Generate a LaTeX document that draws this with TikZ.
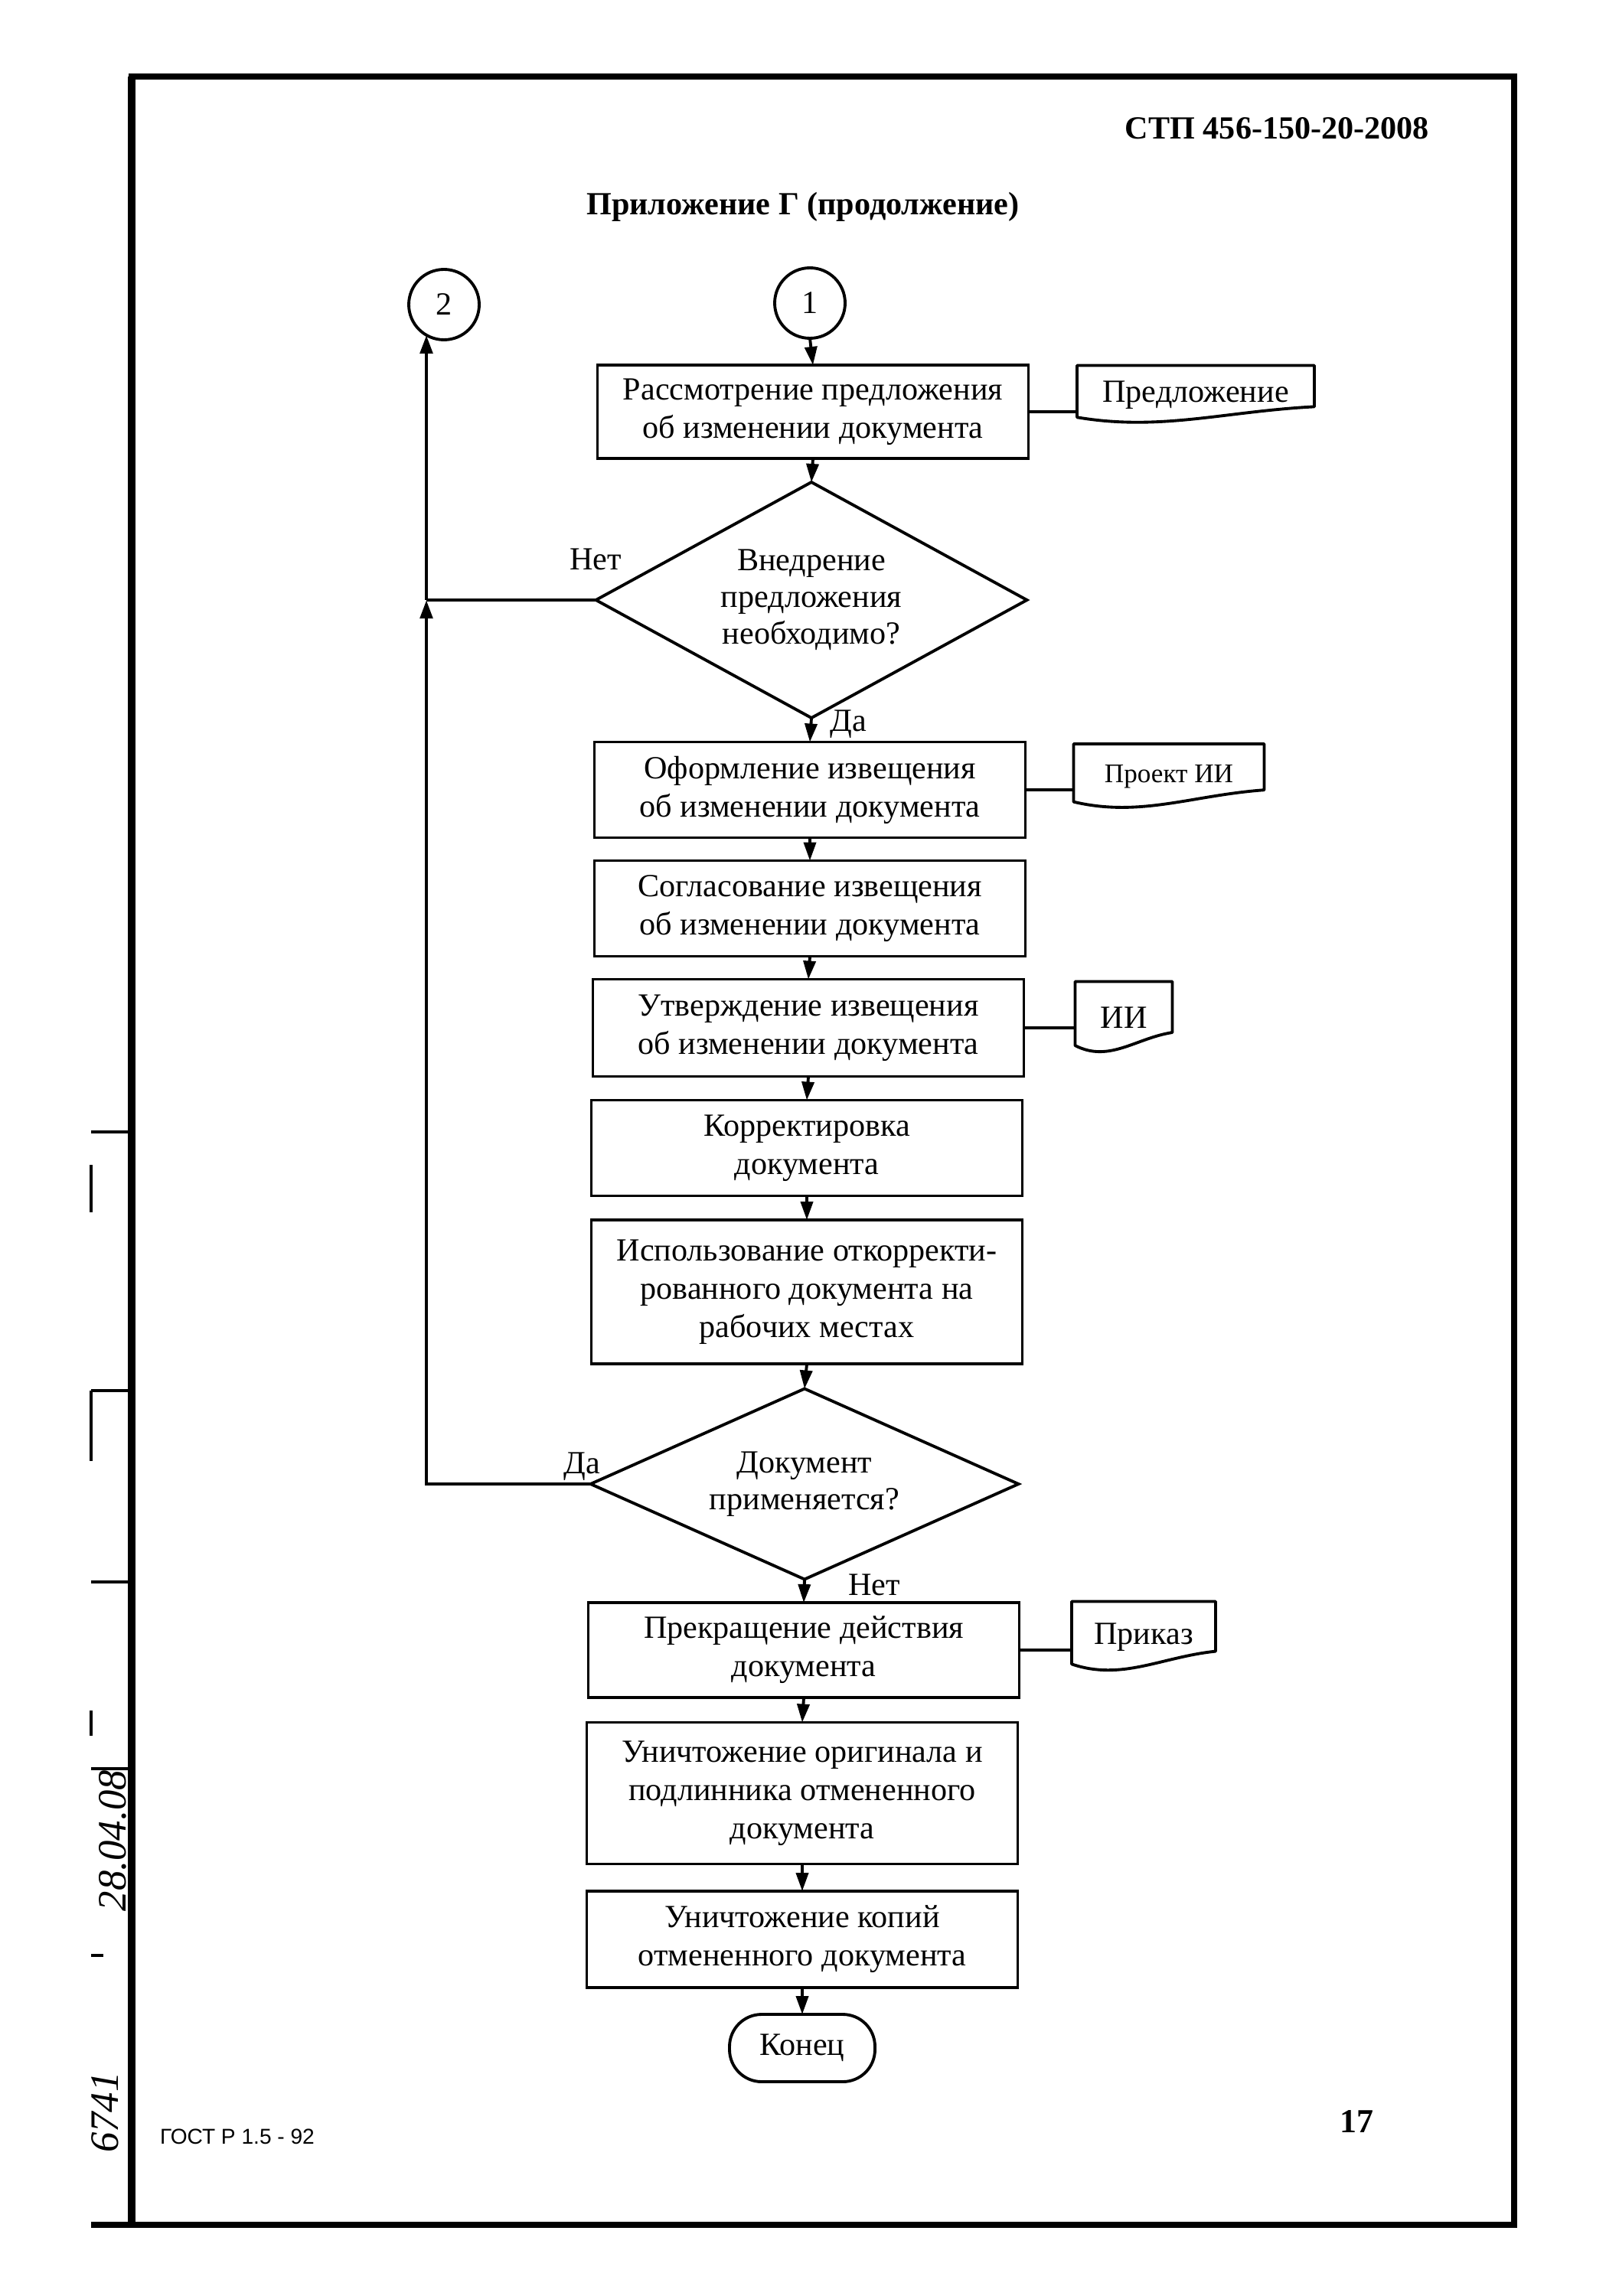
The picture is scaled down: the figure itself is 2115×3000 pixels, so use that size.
\documentclass[tikz,border=0pt]{standalone}
\usepackage{fontspec}
\setmainfont{Liberation Serif}
\newfontfamily\gostsans{Liberation Sans}
\usetikzlibrary{shapes.geometric,arrows.meta,calc}

\newcommand\docoutline[1]{%
  \draw[docline] let \p1=(#1.south west), \p2=(#1.north east) in
    (#1.north west) -- (#1.north east) -- ({\x2},{\y1+0.30*(\y2-\y1)})
    .. controls ({\x1+0.62*(\x2-\x1)},{\y1+0.22*(\y2-\y1)}) and ({\x1+0.35*(\x2-\x1)},{\y1-0.12*(\y2-\y1)}) ..
    ({\x1},{\y1+0.12*(\y2-\y1)}) -- cycle;}

\begin{document}
\begin{tikzpicture}[x=0.1mm,y=-0.1mm,
  every node/.style={inner sep=0pt, outer sep=0pt},
  txt/.style={font=\fontsize{12}{14.2}\selectfont},
  proc/.style={txt, draw, line width=1.1pt, minimum width=56.3mm, align=center},
  decis/.style={draw, diamond, line width=1.1pt, align=center, font=\fontsize{12}{13.6}\selectfont},
  docn/.style={txt, align=center},
  docline/.style={line width=1.1pt, line join=round},
  circ/.style={txt, draw, circle, line width=1.1pt, minimum size=9.2mm},
  term/.style={txt, draw, line width=1.1pt, rounded corners=4.2mm, minimum width=19mm, minimum height=8.8mm},
  conn/.style={line width=1.1pt},
  flow/.style={conn, -{Triangle[length=2.4mm,width=1.6mm]}},
  loopline/.style={line width=1.4pt},
  lab/.style={txt},
  frameline/.style={line width=2.3pt},
  margin/.style={line width=1.3pt},
  hand/.style={font=\itshape\fontsize{15}{15}\selectfont, rotate=90},
]
\useasboundingbox (0,0) rectangle (2115,3000);

% page frame and margin marks
\draw[frameline] (172,100) rectangle (1978,2907);
\draw[line width=3pt] (172,100) -- (172,2907);
\draw[frameline] (119,2907) -- (172,2907);
\draw[margin] (119,1479) -- (172,1479);
\draw[margin] (119,1522) -- (119,1584);
\draw[margin] (119,1817) -- (172,1817);
\draw[margin] (119,1817) -- (119,1909);
\draw[margin] (119,2067) -- (172,2067);
\draw[margin] (119,2235) -- (119,2268);
\draw[margin] (119,2311) -- (172,2311);
\draw[margin] (119,2555) -- (135,2555);

% header
\node[font=\bfseries\fontsize{12}{14}\selectfont, anchor=east] (hdr) at (1867,168) {СТП 456-150-20-2008};
\node[font=\bfseries\fontsize{12}{14}\selectfont] (ttl) at (1049,270) {Приложение Г (продолжение)};

% connectors (off-page)
\node[circ] (c2) at (580,398) {2};
\node[circ] (c1) at (1058,396) {1};

% main column
\node[proc, minimum height=12.2mm] (b1) at (1062,538) {Рассмотрение предложения\\об изменении документа};
\node[docn, minimum width=31mm, minimum height=7.7mm] (p1) at (1562,516) {Предложение};
\node[decis, aspect=1.83, minimum width=56.3mm, minimum height=30.8mm] (d1) at (1060,784) {Внедрение\\предложения\\необходимо?};
\node[proc, minimum height=12.5mm] (b2) at (1058,1032) {Оформление извещения\\об изменении документа};
\node[docn, minimum width=24.9mm, minimum height=8.6mm, font=\fontsize{10}{12}\selectfont] (p2) at (1527,1015) {Проект ИИ};
\node[proc, minimum height=12.5mm] (b3) at (1058,1187) {Согласование извещения\\об изменении документа};
\node[proc, minimum height=12.7mm] (b4) at (1056,1343) {Утверждение извещения\\об изменении документа};
\node[docn, minimum width=12.7mm, minimum height=9.5mm] (p3) at (1468,1330) {ИИ};
\node[proc, minimum height=12.5mm] (b5) at (1054,1500) {Корректировка\\документа};
\node[proc, minimum height=18.8mm] (b6) at (1054,1688) {Использование откорректи-\\рованного документа на\\рабочих местах};
\node[decis, aspect=2.24, minimum width=55.9mm, minimum height=24.9mm] (d2) at (1051,1939) {Документ\\применяется?};
\node[proc, minimum height=12.4mm] (b7) at (1050,2156) {Прекращение действия\\документа};
\node[docn, minimum width=18.8mm, minimum height=9.3mm] (p4) at (1494,2139) {Приказ};
\node[proc, minimum height=18.5mm] (b8) at (1048,2343) {Уничтожение оригинала и\\подлинника отмененного\\документа};
\node[proc, minimum height=12.6mm] (b9) at (1048,2534) {Уничтожение копий\\отмененного документа};
\node[term] (e) at (1048,2676) {Конец};

% document outlines
\docoutline{p1}
\docoutline{p2}
\docoutline{p3}
\docoutline{p4}

% labels
\node[lab] (l1) at (778,731) {Нет};
\node[lab] (l2) at (1108,946) {Да};
\node[lab] (l3) at (760,1916) {Да};
\node[lab] (l4) at (1142,2071) {Нет};

% flow connectors
\draw[flow] (c1.south) -- (b1.north);
\draw[flow] (b1.south) -- (d1.north);
\draw[flow] (d1.south) -- (b2.north);
\draw[flow] (b2.south) -- (b3.north);
\draw[flow] (b3.south) -- (b4.north);
\draw[flow] (b4.south) -- (b5.north);
\draw[flow] (b5.south) -- (b6.north);
\draw[flow] (b6.south) -- (d2.north);
\draw[flow] (d2.south) -- (b7.north);
\draw[flow] (b7.south) -- (b8.north);
\draw[flow] (b8.south) -- (b9.north);
\draw[flow] (b9.south) -- (e.north);

% document links
\draw[conn] (b1.east) -- (b1.east -| p1.west);
\draw[conn] (b2.east) -- (b2.east -| p2.west);
\draw[conn] (b4.east) -- (b4.east -| p3.west);
\draw[conn] (b7.east) -- (b7.east -| p4.west);

% return loop
\coordinate (j1) at (d1.west -| c2.240);
\coordinate (j2) at (d2.west -| c2.240);
\draw[loopline] (d1.west) -- (j1);
\draw[loopline, -{Triangle[length=2.4mm,width=1.6mm]}] (d2.west) -- (j2) -- (j1);
\draw[loopline, -{Triangle[length=2.4mm,width=1.6mm]}] (j1) -- (c2.240);

% footer
\node[font=\gostsans\fontsize{8}{10}\selectfont] (gost) at (310,2792) {ГОСТ Р 1.5 - 92};
\node[font=\bfseries\fontsize{12.5}{14}\selectfont] (pg) at (1772,2772) {17};

% handwritten margin notes
\node[hand] (h1) at (147,2405) {28.04.08};
\node[hand] (h2) at (137,2760) {6741};
\end{tikzpicture}
\end{document}
